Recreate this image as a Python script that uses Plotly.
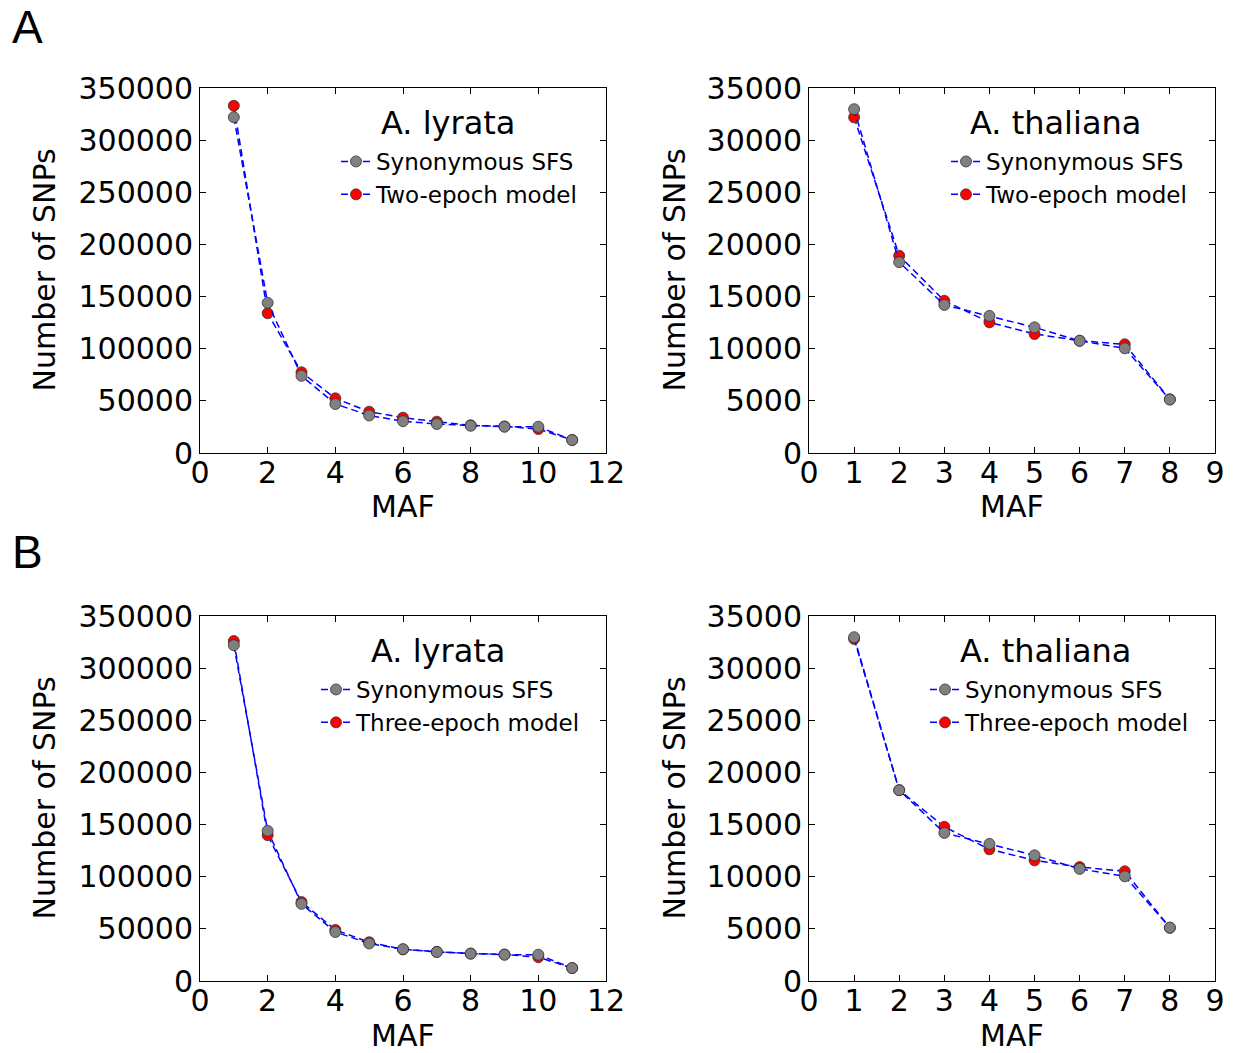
import plotly.graph_objects as go

maf_lyrata = [1, 2, 3, 4, 5, 6, 7, 8, 9, 10, 11]
lyrata_sfs = [322000, 144000, 74000, 47000, 36000, 30500, 27800, 26200, 25200, 25200, 12400]
lyrata_two_epoch = [333000, 134000, 77400, 52400, 39600, 33900, 30000, 26500, 25500, 23000, 12500]
lyrata_three_epoch = [326000, 139800, 75700, 49000, 37200, 30300, 28000, 26300, 25400, 22800, 12400]

maf_thaliana = [1, 2, 3, 4, 5, 6, 7, 8]
thaliana_sfs = [32970, 18300, 14200, 13150, 12050, 10750, 10040, 5120]
thaliana_two_epoch = [32190, 18920, 14600, 12530, 11410, 10770, 10420, 5150]
thaliana_three_epoch = [32800, 18300, 14780, 12630, 11570, 10930, 10520, 5100]

W, H = 1237, 1053
FONT = "DejaVu Sans"

panels = [
    ("x", "y", "legend", maf_lyrata, lyrata_sfs, lyrata_two_epoch, "Two-epoch model", "A. lyrata",
     (200, 606), (88, 453), 12, 2, 350000, 50000, (448, 123), 378, 140, 156),
    ("x2", "y2", "legend2", maf_thaliana, thaliana_sfs, thaliana_two_epoch, "Two-epoch model", "A. thaliana",
     (809, 1215), (88, 453), 9, 1, 35000, 5000, (1055, 123), 988, 140, 135),
    ("x3", "y3", "legend3", maf_lyrata, lyrata_sfs, lyrata_three_epoch, "Three-epoch model", "A. lyrata",
     (200, 606), (616, 981), 12, 2, 350000, 50000, (438, 651), 358, 668, 156),
    ("x4", "y4", "legend4", maf_thaliana, thaliana_sfs, thaliana_three_epoch, "Three-epoch model", "A. thaliana",
     (809, 1215), (616, 981), 9, 1, 35000, 5000, (1045, 651), 967, 668, 135),
]

fig = go.Figure()
layout = dict(
    width=W, height=H,
    margin=dict(l=0, r=0, t=0, b=0, autoexpand=False),
    paper_bgcolor="white", plot_bgcolor="white",
    font=dict(family=FONT, color="black", size=30),
    showlegend=True,
    annotations=[],
)

line_style = dict(color="blue", width=1.5, dash="7px,4px")

for (xa, ya, lg, xs, obs, model, mname, title, xd, yd, xmax, xdt, ymax, ydt, tc, lx, ly, yto) in panels:
    fig.add_trace(go.Scatter(
        x=xs, y=model, mode="lines+markers", name=mname,
        line=line_style,
        marker=dict(color="red", size=11, line=dict(color="#333333", width=0.8)),
        xaxis=xa, yaxis=ya, legend=lg, legendrank=2,
    ))
    fig.add_trace(go.Scatter(
        x=xs, y=obs, mode="lines+markers", name="Synonymous SFS",
        line=line_style,
        marker=dict(color="gray", size=11, line=dict(color="#333333", width=0.8)),
        xaxis=xa, yaxis=ya, legend=lg, legendrank=1,
    ))
    xkey = "xaxis" + xa[1:]
    ykey = "yaxis" + ya[1:]
    layout[xkey] = dict(
        domain=[xd[0] / W, xd[1] / W], anchor=ya, automargin=False,
        range=[0, xmax], dtick=xdt, tick0=0,
        showgrid=False, zeroline=False,
        showline=True, linecolor="black", linewidth=1, mirror="ticks",
        ticks="inside", ticklen=6, tickcolor="black",
        ticklabelstandoff=-7,
        tickfont=dict(size=30, family=FONT),
    )
    layout[ykey] = dict(
        domain=[1 - yd[1] / H, 1 - yd[0] / H], anchor=xa, automargin=False,
        range=[0, ymax], dtick=ydt, tick0=0, tickformat="d",
        showgrid=False, zeroline=False,
        showline=True, linecolor="black", linewidth=1, mirror="ticks",
        ticks="inside", ticklen=6, tickcolor="black",
        tickfont=dict(size=30, family=FONT),
    )
    layout[lg] = dict(
        x=(lx - 42) / W, y=1 - ly / H, xanchor="left", yanchor="top",
        bgcolor="rgba(0,0,0,0)", borderwidth=0,
        font=dict(size=23, family=FONT),
        tracegroupgap=0, itemwidth=30,
    )
    layout["annotations"].append(dict(
        text=title, x=tc[0] / W, y=1 - tc[1] / H, xref="paper", yref="paper",
        xanchor="center", yanchor="middle", showarrow=False,
        font=dict(size=32, family=FONT, color="black"),
    ))
    layout["annotations"].append(dict(
        text="MAF", x=(xd[0] + xd[1]) / 2 / W, y=1 - (yd[1] + 54) / H,
        xref="paper", yref="paper", xanchor="center", yanchor="middle",
        showarrow=False, borderpad=0, font=dict(size=30, family=FONT, color="black"),
    ))
    layout["annotations"].append(dict(
        text="Number of SNPs", x=(xd[0] - yto) / W, y=1 - ((yd[0] + yd[1]) / 2) / H,
        xref="paper", yref="paper", xanchor="center", yanchor="middle", textangle=-90,
        showarrow=False, font=dict(size=30, family=FONT, color="black"),
    ))

layout["annotations"].append(dict(
    text="A", x=10 / W, y=1 - 27 / H, xref="paper", yref="paper",
    xanchor="left", yanchor="middle", showarrow=False,
    font=dict(size=46, family="Liberation Sans", color="black"),
))
layout["annotations"].append(dict(
    text="B", x=10 / W, y=1 - 552 / H, xref="paper", yref="paper",
    xanchor="left", yanchor="middle", showarrow=False,
    font=dict(size=46, family="Liberation Sans", color="black"),
))

fig.update_layout(**layout)
fig.write_html("out.html")
